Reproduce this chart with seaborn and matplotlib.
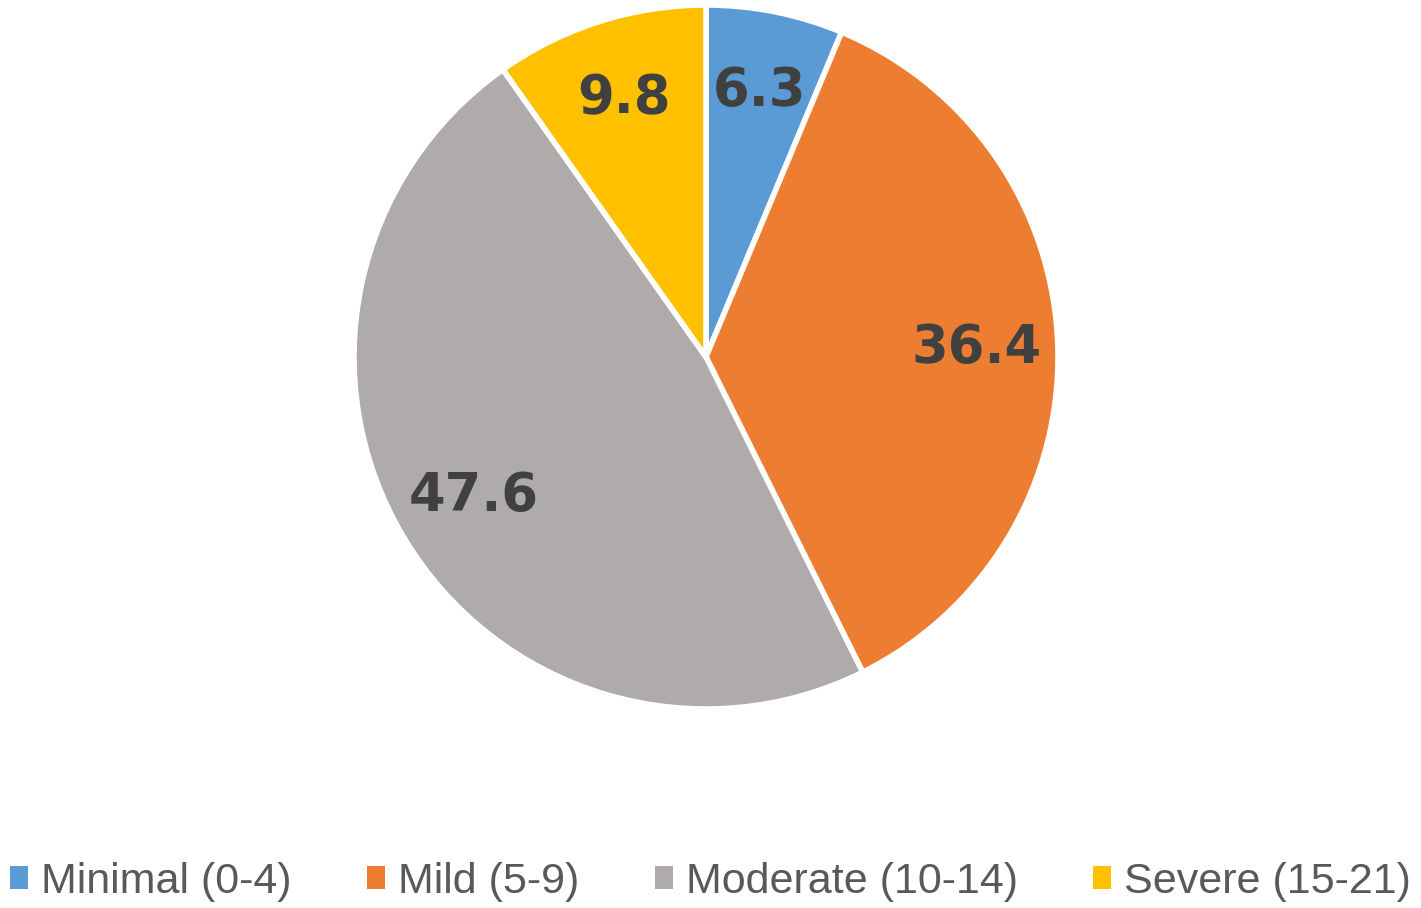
import matplotlib
matplotlib.use("Agg")
import matplotlib.pyplot as plt
import seaborn as sns
from matplotlib.patches import Patch

categories = ["Minimal (0-4)", "Mild (5-9)", "Moderate (10-14)", "Severe (15-21)"]
values = [6.3, 36.4, 47.6, 9.8]
colors = ["#5B9BD5", "#ED7D31", "#AFABAB", "#FFC000"]

sns.set_theme(style="white")
plt.rcParams['font.family'] = ['Liberation Sans', 'DejaVu Sans']

W, H = 1421, 908
fig = plt.figure(figsize=(W / 100, H / 100), dpi=100)
cx, cy, r = 706, 357, 352
ax = fig.add_axes([(cx - r) / W, (H - cy - r) / H, 2 * r / W, 2 * r / H])

wedges, texts = ax.pie(values, colors=colors, startangle=90, counterclock=False,
                       wedgeprops=dict(edgecolor="white", linewidth=4),
                       labels=[f"{v}" for v in values], labeldistance=0.77,
                       textprops=dict(fontsize=38, fontweight="heavy", color="#404040",
                                      family=['DejaVu Sans'], ha="center", va="center"))
ax.set_xlim(-1, 1)
ax.set_ylim(-1, 1)
ax.set_aspect("equal")
ax.axis("off")

handles = [Patch(facecolor=c, edgecolor="none") for c in colors]
fig.legend(handles, categories, loc="center", bbox_to_anchor=(0.5, 1 - 882 / H),
           ncol=4, frameon=False, fontsize=31, labelcolor="#595959",
           handlelength=0.42, handleheight=0.42, handletextpad=0.3, columnspacing=1.75,
           borderpad=0.1, borderaxespad=0.1)

fig.savefig("out.png", dpi=100)
